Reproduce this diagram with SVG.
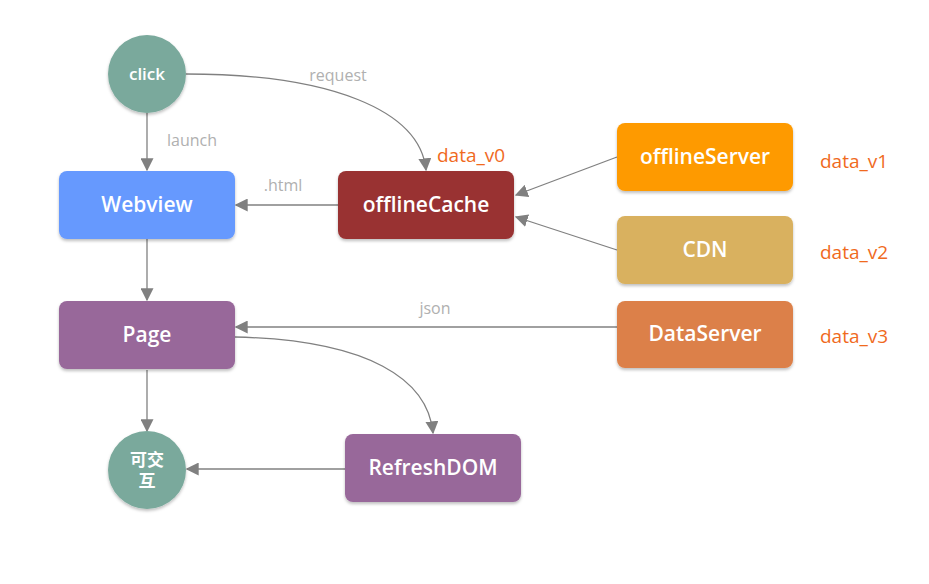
<svg xmlns="http://www.w3.org/2000/svg" width="929" height="584" viewBox="0 0 929 584">
<defs>
<filter id="sh" x="-20%" y="-20%" width="140%" height="150%">
<feDropShadow dx="0" dy="2" stdDeviation="1.5" flood-color="#000" flood-opacity="0.25"/>
</filter>
<marker id="ar" viewBox="0 0 10 10" refX="9" refY="5" markerWidth="13" markerHeight="13" markerUnits="userSpaceOnUse" orient="auto">
<path d="M0,0 L10,5 L0,10 z" fill="#808080"/>
</marker>
<style>
.n text{font-family:"Open Sans","Noto Sans CJK SC",sans-serif;fill:#fff;text-anchor:middle;font-weight:600}
.b{font-size:21px}
.c{font-size:17px}
.lbl{font-family:"Open Sans",sans-serif;font-size:16px;fill:#b0b0b0;text-anchor:middle}
.dv{font-family:"Open Sans",sans-serif;font-size:19px;fill:#f06a1e}
.e{fill:none;stroke:#808080;stroke-width:1.3;marker-end:url(#ar)}
</style>
</defs>
<rect width="929" height="584" fill="#fff"/>
<g id="connectors">
<line class="e" x1="147" y1="113" x2="147" y2="170"/>
<path class="e" d="M186,74 C330,74 420,110 426,170"/>
<line class="e" x1="338" y1="205" x2="236" y2="205"/>
<line class="e" x1="617" y1="157" x2="516" y2="195"/>
<line class="e" x1="617" y1="250" x2="516" y2="217"/>
<line class="e" x1="147" y1="239" x2="147" y2="300"/>
<line class="e" x1="617" y1="327" x2="236" y2="327"/>
<line class="e" x1="147" y1="370" x2="147" y2="431"/>
<path class="e" d="M235,337 C370,340 428,380 433,433"/>
<line class="e" x1="345" y1="469" x2="187" y2="469"/>
<text class="lbl" x="192" y="146">launch</text>
<text class="lbl" x="338" y="81">request</text>
<text class="lbl" x="283" y="191">.html</text>
<text class="lbl" x="435" y="314">json</text>
</g>
<g id="click" class="n"><circle cx="147" cy="74" r="39" fill="#7aa99c" filter="url(#sh)"/><text class="c" x="147" y="80">click</text></g>
<g id="webview" class="n"><rect x="59" y="171" width="176" height="68" rx="8" fill="#6699fe" filter="url(#sh)"/><text class="b" x="147" y="212">Webview</text></g>
<g id="offlineCache" class="n"><rect x="338" y="171" width="176" height="68" rx="8" fill="#993333" filter="url(#sh)"/><text class="b" x="426" y="212">offlineCache</text></g>
<g id="offlineServer" class="n"><rect x="617" y="123" width="176" height="68" rx="8" fill="#fe9a03" filter="url(#sh)"/><text class="b" x="705" y="164">offlineServer</text></g>
<g id="cdn" class="n"><rect x="617" y="216" width="176" height="68" rx="8" fill="#d9b15f" filter="url(#sh)"/><text class="b" x="705" y="257">CDN</text></g>
<g id="dataServer" class="n"><rect x="617" y="301" width="176" height="67" rx="8" fill="#dc8049" filter="url(#sh)"/><text class="b" x="705" y="341">DataServer</text></g>
<g id="page" class="n"><rect x="59" y="301" width="176" height="68" rx="8" fill="#98679a" filter="url(#sh)"/><text class="b" x="147" y="342">Page</text></g>
<g id="refreshDOM" class="n"><rect x="345" y="434" width="176" height="68" rx="8" fill="#98679a" filter="url(#sh)"/><text class="b" x="433" y="475">RefreshDOM</text></g>
<g id="interactive" class="n"><circle cx="147" cy="470" r="39" fill="#7aa99c" filter="url(#sh)"/><text class="c" x="147" y="466">可交</text><text class="c" x="147" y="487">互</text></g>
<g id="versions">
<text class="dv" x="820" y="168">data_v1</text>
<text class="dv" x="437" y="162">data_v0</text>
<text class="dv" x="820" y="259">data_v2</text>
<text class="dv" x="820" y="343">data_v3</text>
</g>
</svg>
